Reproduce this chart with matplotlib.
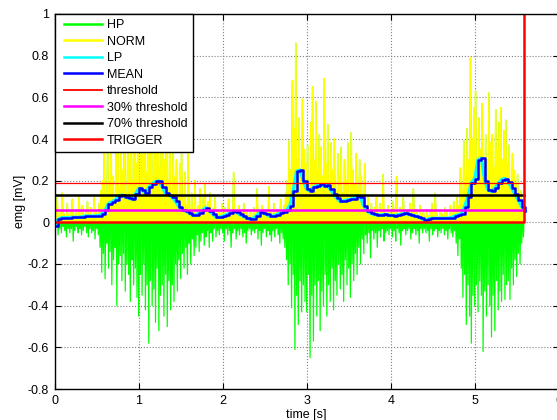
import numpy as np
import matplotlib
matplotlib.use("Agg")
import matplotlib.pyplot as plt
from matplotlib.lines import Line2D
from matplotlib.legend_handler import HandlerLine2D

plt.rcParams['font.family'] = ['Liberation Sans', 'DejaVu Sans']

# ---------------- data ----------------
sample_step = 0.02  # s between peak samples
norm_peak = [
    0.06, 0.12, 0.03, 0.05, 0.14, 0.04, 0.02, 0.09, 0.03, 0.05,
    0.11, 0.03, 0.06, 0.02, 0.13, 0.04, 0.08, 0.03, 0.05, 0.10,
    0.04, 0.07, 0.03, 0.12, 0.05, 0.03, 0.09, 0.15, 0.20, 0.33,
    0.12, 0.38, 0.18, 0.45, 0.22, 0.09, 0.35, 0.55, 0.16, 0.40,
    0.25, 0.60, 0.14, 0.42, 0.30, 0.65, 0.20, 0.48, 0.28, 0.55,
    0.18, 0.70, 0.32, 0.50, 0.24, 0.62, 0.40, 0.75, 0.22, 0.58,
    0.35, 0.68, 0.26, 0.52, 0.44, 0.30, 0.60, 0.20, 0.45, 0.15,
    0.38, 0.22, 0.30, 0.12, 0.28, 0.33, 0.10, 0.24, 0.08, 0.33,
    0.06, 0.14, 0.05, 0.20, 0.04, 0.08, 0.16, 0.05, 0.12, 0.18,
    0.05, 0.10, 0.14, 0.04, 0.07, 0.12, 0.03, 0.06, 0.04, 0.09,
    0.03, 0.07, 0.04, 0.11, 0.05, 0.03, 0.24, 0.06, 0.04, 0.08,
    0.05, 0.03, 0.09, 0.04, 0.06, 0.03, 0.05, 0.02, 0.07, 0.04,
    0.16, 0.05, 0.03, 0.08, 0.04, 0.06, 0.03, 0.17, 0.05, 0.04,
    0.09, 0.04, 0.06, 0.03, 0.11, 0.05, 0.08, 0.14, 0.20, 0.39,
    0.25, 0.68, 0.45, 0.86, 0.30, 0.50, 0.22, 0.59, 0.35, 0.28,
    0.37, 0.20, 0.48, 0.65, 0.30, 0.58, 0.25, 0.42, 0.36, 0.22,
    0.69, 0.28, 0.47, 0.18, 0.38, 0.25, 0.40, 0.15, 0.33, 0.22,
    0.36, 0.14, 0.30, 0.20, 0.38, 0.12, 0.43, 0.25, 0.18, 0.33,
    0.15, 0.30, 0.22, 0.10, 0.28, 0.08, 0.12, 0.05, 0.09, 0.04,
    0.07, 0.12, 0.04, 0.09, 0.05, 0.23, 0.06, 0.03, 0.08, 0.05,
    0.04, 0.10, 0.06, 0.22, 0.03, 0.07, 0.05, 0.12, 0.04, 0.06,
    0.03, 0.09, 0.05, 0.16, 0.04, 0.06, 0.03, 0.08, 0.04, 0.05,
    0.02, 0.06, 0.03, 0.05, 0.09, 0.03, 0.14, 0.04, 0.02, 0.06,
    0.04, 0.03, 0.07, 0.05, 0.02, 0.08, 0.04, 0.10, 0.05, 0.12,
    0.08, 0.26, 0.15, 0.39, 0.22, 0.45, 0.30, 0.79, 0.40, 0.55,
    0.63, 0.28, 0.50, 0.35, 0.57, 0.24, 0.42, 0.30, 0.62, 0.38,
    0.42, 0.26, 0.54, 0.35, 0.48, 0.55, 0.30, 0.44, 0.49, 0.28,
    0.37, 0.20, 0.33, 0.25, 0.18, 0.23, 0.12, 0.15, 0.10, 0.06,
]
hp_neg = [
    0.04, 0.02, 0.06, 0.03, 0.05, 0.02, 0.04, 0.07, 0.03, 0.05,
    0.03, 0.09, 0.04, 0.02, 0.05, 0.03, 0.06, 0.04, 0.02, 0.05,
    0.07, 0.03, 0.05, 0.04, 0.08, 0.03, 0.06, 0.12, 0.24, 0.15,
    0.27, 0.10, 0.22, 0.14, 0.30, 0.18, 0.12, 0.40, 0.20, 0.16,
    0.28, 0.15, 0.33, 0.20, 0.25, 0.38, 0.18, 0.30, 0.22, 0.36,
    0.45, 0.25, 0.35, 0.20, 0.42, 0.30, 0.58, 0.28, 0.40, 0.32,
    0.48, 0.22, 0.52, 0.35, 0.30, 0.45, 0.25, 0.50, 0.28, 0.42,
    0.30, 0.38, 0.20, 0.33, 0.18, 0.27, 0.15, 0.22, 0.12, 0.25,
    0.10, 0.20, 0.08, 0.16, 0.12, 0.06, 0.14, 0.09, 0.05, 0.11,
    0.07, 0.04, 0.12, 0.05, 0.09, 0.03, 0.07, 0.04, 0.06, 0.03,
    0.05, 0.09, 0.03, 0.06, 0.04, 0.12, 0.05, 0.03, 0.08, 0.04,
    0.06, 0.03, 0.07, 0.05, 0.10, 0.04, 0.03, 0.06, 0.04, 0.05,
    0.03, 0.08, 0.04, 0.11, 0.05, 0.03, 0.07, 0.04, 0.06, 0.09,
    0.04, 0.07, 0.03, 0.06, 0.10, 0.05, 0.08, 0.12, 0.18, 0.30,
    0.20, 0.41, 0.25, 0.61, 0.35, 0.49, 0.28, 0.43, 0.30, 0.38,
    0.43, 0.25, 0.65, 0.35, 0.57, 0.30, 0.45, 0.28, 0.52, 0.33,
    0.40, 0.25, 0.45, 0.30, 0.38, 0.22, 0.42, 0.28, 0.35, 0.20,
    0.32, 0.25, 0.38, 0.18, 0.30, 0.22, 0.36, 0.20, 0.28, 0.15,
    0.25, 0.12, 0.20, 0.08, 0.15, 0.06, 0.10, 0.05, 0.17, 0.04,
    0.08, 0.05, 0.12, 0.04, 0.07, 0.03, 0.09, 0.05, 0.04, 0.06,
    0.03, 0.07, 0.04, 0.09, 0.03, 0.05, 0.11, 0.04, 0.03, 0.06,
    0.04, 0.03, 0.08, 0.05, 0.03, 0.06, 0.04, 0.10, 0.03, 0.05,
    0.03, 0.05, 0.04, 0.09, 0.03, 0.06, 0.04, 0.03, 0.07, 0.04,
    0.05, 0.03, 0.06, 0.04, 0.08, 0.03, 0.05, 0.07, 0.04, 0.10,
    0.16, 0.08, 0.22, 0.36, 0.25, 0.49, 0.30, 0.45, 0.58, 0.35,
    0.40, 0.30, 0.43, 0.28, 0.35, 0.62, 0.33, 0.45, 0.30, 0.40,
    0.55, 0.35, 0.52, 0.28, 0.42, 0.33, 0.38, 0.25, 0.37, 0.30,
    0.28, 0.37, 0.22, 0.30, 0.18, 0.26, 0.15, 0.20, 0.10, 0.07,
]
mean_step = 0.04
mean_vals = [
    -0.02, 0.015, 0.022, 0.022, 0.022, 0.024, 0.024, 0.024, 0.026, 0.03,
    0.03, 0.03, 0.03, 0.032, 0.04, 0.058, 0.09, 0.098, 0.107, 0.125,
    0.131, 0.123, 0.115, 0.112, 0.134, 0.163, 0.155, 0.14, 0.168, 0.185,
    0.196, 0.198, 0.171, 0.139, 0.133, 0.12, 0.1, 0.075, 0.06, 0.054,
    0.046, 0.035, 0.034, 0.045, 0.058, 0.07, 0.056, 0.04, 0.026, 0.024,
    0.03, 0.036, 0.043, 0.052, 0.05, 0.038, 0.03, 0.022, 0.016, 0.018,
    0.03, 0.048, 0.045, 0.038, 0.03, 0.03, 0.036, 0.043, 0.05, 0.06,
    0.08, 0.15, 0.245, 0.25, 0.2, 0.16, 0.15, 0.168, 0.176, 0.182,
    0.176, 0.178, 0.16, 0.135, 0.115, 0.1, 0.103, 0.107, 0.11, 0.114,
    0.128, 0.12, 0.08, 0.055, 0.043, 0.038, 0.035, 0.035, 0.038, 0.036,
    0.033, 0.032, 0.035, 0.038, 0.043, 0.04, 0.035, 0.032, 0.027, 0.02,
    0.011, 0.015, 0.019, 0.019, 0.019, 0.019, 0.019, 0.02, 0.022, 0.03,
    0.035, 0.04, 0.075, 0.123, 0.19, 0.21, 0.3, 0.307, 0.2, 0.155,
    0.148, 0.163, 0.187, 0.205, 0.21, 0.195, 0.165, 0.135, 0.107, 0.075,
    0.055,
]
threshold = 0.19
thr30 = 0.057
thr70 = 0.133
trigger_time = [0.0, 5.59, 5.59]
trigger_val = [0.0, 0.0, 1.0]

xticks = [0, 1, 2, 3, 4, 5, 6]
yticks = [-0.8, -0.6, -0.4, -0.2, 0, 0.2, 0.4, 0.6, 0.8, 1]
ytick_labels = ['-0.8', '-0.6', '-0.4', '-0.2', '0', '0.2', '0.4', '0.6', '0.8', '1']
legend_labels = ['HP', 'NORM', 'LP', 'MEAN', 'threshold', '30% threshold',
                 '70% threshold', 'TRIGGER']

# ---------------- build series ----------------
n = len(norm_peak)
t_peak = np.arange(n) * sample_step
t_fine = np.empty(2 * n)
t_fine[0::2] = t_peak
t_fine[1::2] = t_peak + sample_step / 2
hp = np.empty(2 * n)
hp[0::2] = -np.array(hp_neg)
hp[1::2] = np.array(norm_peak)
norm = np.empty(2 * n)
norm[0::2] = 0.0
norm[1::2] = np.array(norm_peak)
t_mean = np.arange(len(mean_vals)) * mean_step
t_end = trigger_time[1]

# ---------------- figure ----------------
W, H = 557, 420
fig = plt.figure(figsize=(W / 100, H / 100), dpi=100)
ax = fig.add_axes([54.7 / W, 31 / H, 504 / W, 375 / H])

l_hp, = ax.plot(t_fine, hp, color='#00ff00', lw=0.9)
l_norm, = ax.plot(t_fine, norm, color='#ffff00', lw=1.2)
l_lp, = ax.plot(t_mean, mean_vals, color='#00ffff', lw=2.4)
l_mean, = ax.plot(t_mean, mean_vals, color='#0000ff', lw=1.8, drawstyle='steps-post')
l_thr, = ax.plot([0, t_end], [threshold, threshold], color='#ff0000', lw=0.9)
l_30, = ax.plot([0, t_end], [thr30, thr30], color='#ff00ff', lw=1.8)
l_70, = ax.plot([0, t_end], [thr70, thr70], color='black', lw=1.8)
l_trig, = ax.plot(trigger_time, trigger_val, color='#ff0000', lw=1.8)

ax.set_xlim(0, 6)
ax.set_ylim(-0.8, 1)
ax.set_xticks(xticks)
ax.set_yticks(yticks)
ax.set_yticklabels(ytick_labels)
ax.tick_params(direction='in', top=True, right=True, length=4, labelsize=9, pad=4)
ax.grid(True, color='#808080', linestyle=':', linewidth=0.8)
for s in ax.spines.values():
    s.set_linewidth(1.0)
    s.set_color('black')
ax.set_xlabel('time [s]', fontsize=9, labelpad=2)
ax.set_ylabel('emg [mV]', fontsize=9, labelpad=1)

leg = ax.legend([l_hp, l_norm, l_lp, l_mean, l_thr, l_30, l_70, l_trig],
                legend_labels,
                loc='upper left', borderaxespad=0, fancybox=False, framealpha=1,
                edgecolor='black', fontsize=9, handlelength=3.35, handletextpad=0.4,
                labelspacing=0.36, borderpad=0.42,
                handler_map={Line2D: HandlerLine2D(xpad=0.35)})
leg.get_frame().set_linewidth(1.0)
for ln in leg.get_lines():
    ln.set_linewidth(1.8)
    ln.set_drawstyle('default')
leg.get_lines()[4].set_linewidth(1.3)

fig.savefig('out.png', dpi=100)
